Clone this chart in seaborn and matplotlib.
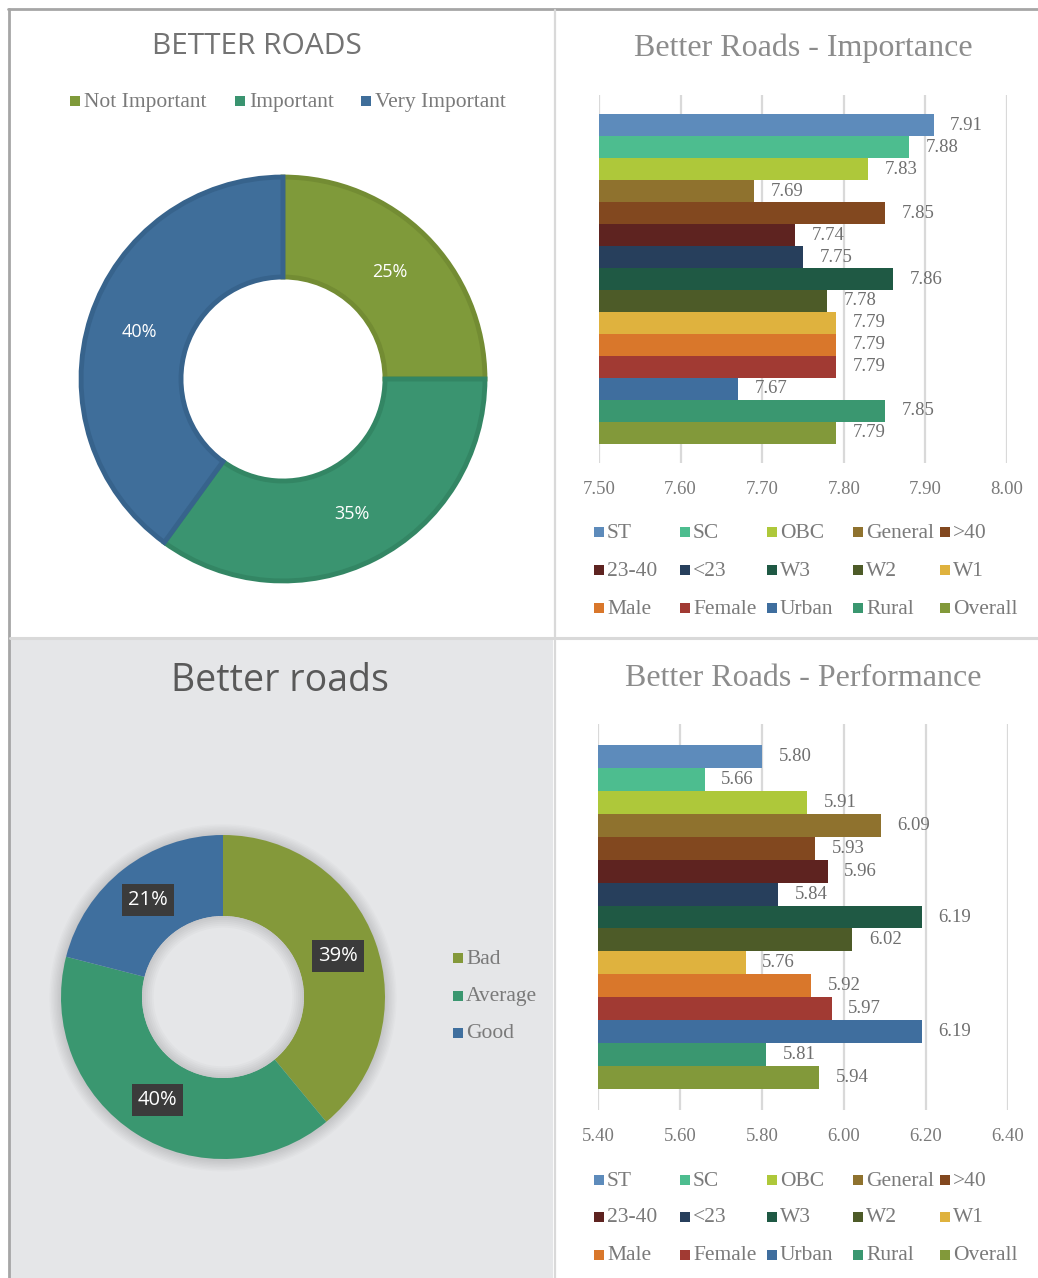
import matplotlib
matplotlib.use('Agg')
import matplotlib.pyplot as plt
from matplotlib.patches import Rectangle, Circle, Wedge
import seaborn as sns
import pandas as pd

# groups shown in both bar charts (top to bottom)
groups = ['ST', 'SC', 'OBC', 'General', '>40', '23-40', '<23', 'W3', 'W2', 'W1',
          'Male', 'Female', 'Urban', 'Rural', 'Overall']
group_colors = ['#5d8bbb', '#4dbd8f', '#aec83a', '#8f722e', '#82481f', '#5e2320',
                '#273f5c', '#1f5944', '#4d5b28', '#dfb23e', '#d9772b', '#a13a33',
                '#3f6e9e', '#3a9770', '#82993a']
importance = [7.91, 7.88, 7.83, 7.69, 7.85, 7.74, 7.75, 7.86, 7.78, 7.79,
              7.79, 7.79, 7.67, 7.85, 7.79]
performance = [5.80, 5.66, 5.91, 6.09, 5.93, 5.96, 5.84, 6.19, 6.02, 5.76,
               5.92, 5.97, 6.19, 5.81, 5.94]
imp_ticks = [7.50, 7.60, 7.70, 7.80, 7.90, 8.00]
perf_ticks = [5.40, 5.60, 5.80, 6.00, 6.20, 6.40]

# donut data
imp_levels = ['Not Important', 'Important', 'Very Important']
imp_share = [25, 35, 40]
imp_colors = ['#7f9a3a', '#3a9470', '#3f6e9a']
imp_edges = ['#738c33', '#338664', '#37638c']
perf_levels = ['Bad', 'Average', 'Good']
perf_share = [39, 40, 21]
perf_colors = ['#84993a', '#3a9770', '#3f6f9e']

W, H = 1038, 1278
GRAY = '#7a7a7a'

sns.set_theme(style='white')
plt.rcParams['font.family'] = ['Liberation Serif', 'DejaVu Serif']

fig = plt.figure(figsize=(W / 100, H / 100), dpi=100)
fig.patch.set_facecolor('white')


def px_axes(x0, y0, x1, y1):
    return fig.add_axes([x0 / W, 1 - y1 / H, (x1 - x0) / W, (y1 - y0) / H])


# background layer in pixel coordinates
bg = px_axes(0, 0, W, H)
bg.set_xlim(0, W)
bg.set_ylim(H, 0)
bg.axis('off')
bg.set_zorder(0)

bg.add_patch(Rectangle((10, 640), 543, 640, color='#e5e6e8', lw=0))
bg.plot([8, W], [9, 9], color='#a6a6a6', lw=2)
bg.plot([9, 9], [9, H], color='#a6a6a6', lw=2)
bg.plot([555, 555], [10, H], color='#d9d9d9', lw=1.6)
bg.plot([10, W], [638, 638], color='#d9d9d9', lw=2.2)


def draw_legend(labels, colors, xs, ys, ncol):
    for i, (lab, col) in enumerate(zip(labels, colors)):
        x = xs[i % ncol]
        y = ys[i // ncol]
        bg.add_patch(Rectangle((x, y - 5), 10, 10, color=col, lw=0))
        bg.text(x + 13, y + 1, lab, va='center', ha='left', fontsize=15.5, color=GRAY)


# ---- top left: importance donut
bg.text(257, 46, 'BETTER ROADS', ha='center', va='center', fontsize=21.5,
        color='#737373', family='Open Sans')
for lab, col, x in zip(imp_levels, imp_colors, [70, 235, 361]):
    bg.add_patch(Rectangle((x, 96), 10, 10, color=col, lw=0))
    bg.text(x + 14, 102, lab, va='center', ha='left', fontsize=15.5, color=GRAY)

ax = px_axes(283 - 204, 379 - 204, 283 + 204, 379 + 204)
wedges, _, pcts = ax.pie(imp_share, colors=imp_colors, startangle=90, counterclock=False,
                         radius=0.99, autopct='%1.0f%%', pctdistance=0.75,
                         wedgeprops=dict(width=0.49, linewidth=3.5),
                         textprops=dict(color='white', fontsize=13, family='Open Sans'))
for w, ec in zip(wedges, imp_edges):
    w.set_edgecolor(ec)
ax.set_xlim(-1, 1)
ax.set_ylim(-1, 1)
ax.set_aspect('equal')
ax.set_zorder(1)

# ---- bottom left: performance donut
bg.text(280, 681, 'Better roads', ha='center', va='center', fontsize=27,
        color='#595959', family='Open Sans')
draw_legend(perf_levels, perf_colors, [453], [958, 996, 1033], 1)

ax = px_axes(223 - 175, 997 - 175, 223 + 175, 997 + 175)
ax.set_xlim(-175 / 162, 175 / 162)
ax.set_ylim(-175 / 162, 175 / 162)
ax.set_aspect('equal')
ax.axis('off')
for k in range(1, 9):
    ax.add_patch(Circle((0.0, -0.005), 1 + 0.009 * k, color='black', alpha=0.014, lw=0))
wedges, _, pcts = ax.pie(perf_share, colors=perf_colors, startangle=90, counterclock=False,
                         radius=1, autopct='%1.0f%%', pctdistance=0.755,
                         wedgeprops=dict(width=0.5, linewidth=0),
                         textprops=dict(color='white', fontsize=14.5, family='Open Sans'))
ax.add_patch(Circle((0, 0), 0.5, color='#e5e6e8', lw=0, zorder=3))
for k in range(1, 7):
    ax.add_patch(Wedge((0, 0), 0.5, 0, 360, width=0.012 * k, color='black',
                       alpha=0.018, lw=0, zorder=4))
for t in pcts:
    t.set_zorder(6)
    t.set_bbox(dict(boxstyle='square,pad=0.3', fc='#3b3b3b', ec='none'))
ax.set_xlim(-175 / 162, 175 / 162)
ax.set_ylim(-175 / 162, 175 / 162)
ax.set_zorder(1)


# ---- bar charts
def bar_panel(box, values, ticks, title, title_y, margin):
    x0, y0, x1, y1 = box
    ax = px_axes(x0, y0, x1, y1)
    df = pd.DataFrame({'group': groups, 'value': values})
    sns.barplot(data=df, x='value', y='group', hue='group', palette=group_colors,
                orient='h', width=1.0, saturation=1, legend=False, ax=ax,
                linewidth=0, edgecolor='none')
    for p in ax.patches:
        p.set_antialiased(False)
    ax.set_xlim(ticks[0], ticks[-1])
    ax.set_ylim(len(groups) - 0.5 + margin, -0.5 - margin)
    ax.set_xticks(ticks)
    ax.set_xticklabels([f'{t:.2f}' for t in ticks])
    ax.set_yticks([])
    ax.set_xlabel('')
    ax.set_ylabel('')
    ax.grid(axis='x', color='#d9d9d9', lw=1.6)
    ax.grid(axis='y', visible=False)
    ax.set_axisbelow(True)
    ax.patch.set_alpha(0)
    for s in ax.spines.values():
        s.set_visible(False)
    ax.tick_params(axis='x', length=0, pad=13, labelsize=13.5, labelcolor=GRAY)
    for c in ax.containers:
        ax.bar_label(c, fmt='%.2f', padding=12, fontsize=13.5, color='#6f6f6f')
    ax.set_zorder(1)
    bg.text(803, title_y, title, ha='center', va='center', fontsize=23, color='#8c8c8c')
    return ax


bar_panel((599, 95, 1007, 463), importance, imp_ticks, 'Better Roads - Importance', 48, 0.88)
bar_panel((598, 724, 1008, 1110), performance, perf_ticks, 'Better Roads - Performance', 678, 0.92)

leg_x = [594, 680, 767, 853, 940]
draw_legend(groups, group_colors, leg_x, [532, 570, 608], 5)
draw_legend(groups, group_colors, leg_x, [1180, 1217, 1255], 5)

fig.savefig('out.png', dpi=100)
